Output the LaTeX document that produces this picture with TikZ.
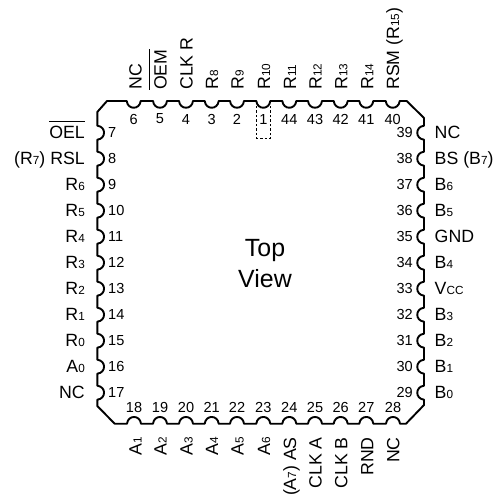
\documentclass[tikz,border=0pt]{standalone}
\usepackage{fontspec}
\setmainfont{Liberation Sans}
\newcommand{\sbs}[1]{{\fontsize{11.8}{11.8}\selectfont #1}}
\newcommand{\ovl}[1]{\setbox0\hbox{#1}\rlap{\raisebox{16.5bp}{\rule{\wd0}{0.9bp}}}\box0}
\tikzset{
  pkg/.style={line width=1.9bp,line join=round},
  numlab/.style={font=\fontsize{14.6}{15}\selectfont,inner sep=0pt},
  sigleft/.style={font=\fontsize{17.8}{18}\selectfont,inner sep=0pt,anchor=base east},
  sigright/.style={font=\fontsize{17.8}{18}\selectfont,inner sep=0pt,anchor=base west},
  sigtop/.style={font=\fontsize{17.8}{18}\selectfont,inner sep=0pt,anchor=base west,rotate=90},
  sigbot/.style={font=\fontsize{17.8}{18}\selectfont,inner sep=0pt,anchor=base east,rotate=90},
  title/.style={font=\fontsize{25}{31}\selectfont,inner sep=0pt,align=center},
}
\begin{document}
\begin{tikzpicture}[x=1bp,y=-1bp]
\useasboundingbox (0,0) rectangle (502,497);
% package outline
\draw[pkg] (97.3,112) -- (107,101)
 \foreach \c in {133.7,160,186,211.7,237,263.3,289.3,315,340.7,366.3,392.7}{
   -- (\c-7,101) .. controls (\c-6,110) and (\c+6,110) .. (\c+7,101)}
 -- (406.7,101) -- (424,118)
 \foreach \c in {132.7,158.7,184.7,210.7,236.7,262.7,288.7,314.7,340.7,366.7,392.7}{
   -- (424,\c-7) .. controls (415,\c-6) and (415,\c+6) .. (424,\c+7)}
 -- (424,405) -- (406,423.7)
 \foreach \c in {393,366.3,340.7,315,289.3,263.3,237,211.7,186,160,134}{
   -- (\c+7,423.7) .. controls (\c+6,414.7) and (\c-6,414.7) .. (\c-7,423.7)}
 -- (114.7,423.7) -- (97.3,406)
 \foreach \c in {392.7,366.7,340.7,314.7,288.7,262.7,236.7,210.7,184.7,158.7,132.7}{
   -- (97.3,\c+7) .. controls (106.3,\c+6) and (106.3,\c-6) .. (97.3,\c-7)}
 -- cycle;
% pin 1 marker
\draw[line width=0.7bp,dash pattern=on 2.5bp off 2bp] (256.7,106) -- (256.7,138.5) -- (270.5,138.5) -- (270.5,106);
% top numbers
\foreach \n/\x in {6/133.7,5/160,4/186,3/211.7,2/237,1/263.5,44/289.3,43/315,42/340.7,41/366.3,40/392.7}
  \node[numlab] (t\n) at (\x,119) {\n};
% bottom numbers
\foreach \n/\x in {18/134,19/160,20/186,21/211.7,22/237,23/263.3,24/289.3,25/315,26/340.7,27/366.3,28/393}
  \node[numlab] (b\n) at (\x,407) {\n};
% left numbers
\foreach \n/\y in {7/132.5,8/158.5,9/184.5,10/210.5,11/236.5,12/262.5,13/288.5,14/314.5,15/340.7,16/366.7,17/392.7}
  \node[numlab,anchor=west] (l\n) at (108,\y) {\n};
% right numbers
\foreach \n/\y in {39/132.7,38/158.7,37/184.7,36/210.7,35/236.7,34/262.7,33/288.7,32/314.7,31/340.7,30/366.7,29/392.7}
  \node[numlab,anchor=east] (r\n) at (413,\y) {\n};
% left signals
\foreach \t/\y in {{\ovl{OEL}}/138.5,{(R\sbs{7}) RSL}/164.5,{R\sbs{6}}/190.5,{R\sbs{5}}/216.5,{R\sbs{4}}/242.5,{R\sbs{3}}/268.5,{R\sbs{2}}/294.5,{R\sbs{1}}/320.5,{R\sbs{0}}/346.7,{A\sbs{0}}/372.7,{NC}/398.7}
  \node[sigleft] at (85,\y) {\t};
% right signals
\foreach \t/\y in {{NC}/138.7,{BS (B\sbs{7})}/164.7,{B\sbs{6}}/190.7,{B\sbs{5}}/216.7,{GND}/242.7,{B\sbs{4}}/268.7,{V\sbs{CC}}/294.7,{B\sbs{3}}/320.7,{B\sbs{2}}/346.7,{B\sbs{1}}/372.7,{B\sbs{0}}/398.7}
  \node[sigright] at (434.5,\y) {\t};
% top signals
\foreach \t/\x in {{NC}/141.5,{\ovl{OEM}}/166.7,{CLK R}/192.7,{R\sbs{8}}/218,{R\sbs{9}}/243.7,{R\sbs{10}}/270,{R\sbs{11}}/296,{R\sbs{12}}/321.7,{R\sbs{13}}/347.3,{R\sbs{14}}/373.3,{RSM (R\sbs{15})}/399}
  \node[sigtop] at (\x,90) {\t};
% bottom signals
\foreach \t/\x in {{A\sbs{1}}/141.5,{A\sbs{2}}/166.7,{A\sbs{3}}/192.7,{A\sbs{4}}/218,{A\sbs{5}}/243.7,{A\sbs{6}}/270,{(A\sbs{7}) AS}/296,{CLK A}/321.7,{CLK B}/347.3,{RND}/373.3,{NC}/399.3}
  \node[sigbot] at (\x,437) {\t};
\node[title] (tv) at (265,263.5) {Top\\View};
\end{tikzpicture}
\end{document}
